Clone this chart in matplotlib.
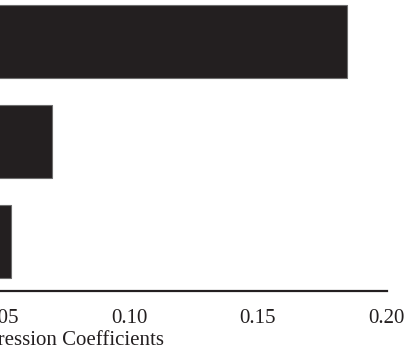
import numpy as np
import matplotlib.pyplot as plt

plt.rcParams['font.family'] = ['Liberation Serif', 'DejaVu Serif']

# regression coefficients, bottom to top
coefs = [0.0542, 0.0701, 0.1848]
ticks = [0.05, 0.10, 0.15, 0.20]
tick_labels = ['0.05', '0.10', '0.15', '0.20']
xlabel = 'Regression Coefficients'

W, H = 407, 355
fig = plt.figure(figsize=(W / 100, H / 100), dpi=100)

# axes reaches past the left edge of the figure
x_right = 386.5
scale = 2575.0
xmin, xmax = -0.05, 0.20
ax_w = (xmax - xmin) * scale
ax_left = x_right - ax_w
ax_bot = 291
ax = fig.add_axes([ax_left / W, (H - ax_bot) / H, ax_w / W, ax_bot / H])

pos = np.arange(len(coefs))
ax.barh(pos, coefs, height=0.73, color='#231f20', edgecolor='#6d6d6d', linewidth=0.8)

ax.set_xlim(xmin, xmax)
ax.set_ylim(-0.5, 2.42)
ax.set_xticks(ticks)
ax.set_xticklabels(tick_labels)
ax.set_yticks([])
ax.tick_params(axis='x', length=0, pad=13, labelsize=15, colors='#231f20')
ax.set_xlabel(xlabel, fontsize=15, color='#231f20', ha='right')
ax.xaxis.set_label_coords((164 - ax_left) / ax_w, -0.135)

for s in ['top', 'right', 'left']:
    ax.spines[s].set_visible(False)
ax.spines['bottom'].set_linewidth(1.6)
ax.spines['bottom'].set_color('#231f20')

fig.savefig('out.png', dpi=100)
